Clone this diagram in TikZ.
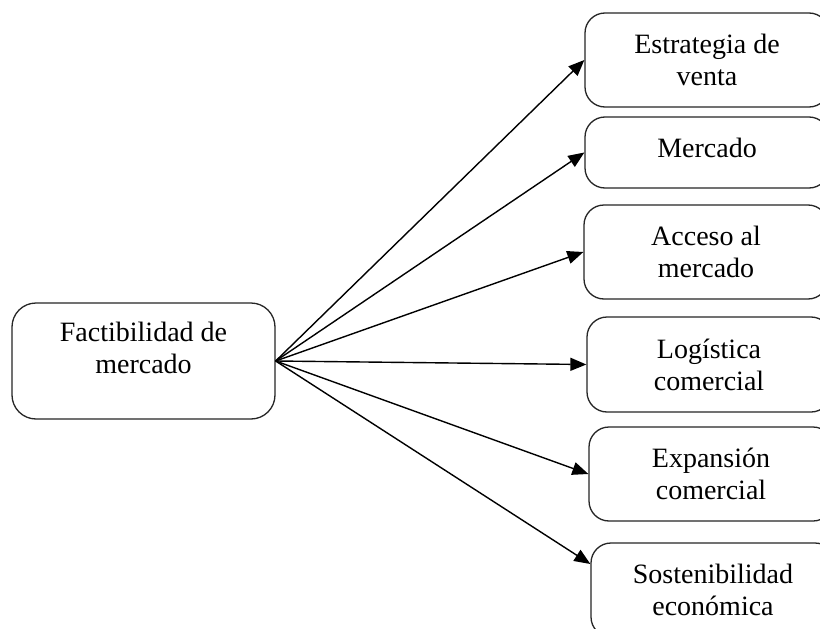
\documentclass[tikz,border=0pt]{standalone}
\usepackage{fontspec}
\setmainfont{Liberation Serif}
\usetikzlibrary{arrows.meta}
\begin{document}
\begin{tikzpicture}[x=1pt,y=-1pt,
  box/.style={draw=black!85, line width=1.3pt, rounded corners=20pt, inner sep=0pt,
    align=center, font=\fontsize{28pt}{32pt}\selectfont},
  link/.style={line width=1.4pt, -{Triangle[length=16pt,width=13pt]}}]
\useasboundingbox (0,0) rectangle (820,629);
\clip (0,0) rectangle (820,629);
\fill[white] (0,0) rectangle (820,629);

% source box
\node[box, rounded corners=24pt, minimum width=263pt, minimum height=116pt] (f) at (143.5,361)
  {Factibilidad de\\mercado\rule[-26pt]{0pt}{26pt}};

% target boxes (run past the right edge)
\node[box, minimum width=244pt, minimum height=94pt] (s1) at (707,60) {Estrategia de\\venta};
\node[box, minimum width=244pt, minimum height=71pt] (s2) at (707,152.5) {Mercado\rule[-10pt]{0pt}{10pt}};
\node[box, minimum width=244pt, minimum height=94pt] (s3) at (706,252) {Acceso al\\mercado};
\node[box, minimum width=244pt, minimum height=95pt] (s4) at (709,364.5) {Logística\\comercial};
\node[box, minimum width=244pt, minimum height=94pt] (s5) at (711,474) {Expansión\\comercial};
\node[box, minimum width=244pt, minimum height=94pt] (s6) at (713,590) {Sostenibilidad\\económica};

% connectors
\draw[link] (f.east) -- (s1.west);
\draw[link] (f.east) -- (s2.west);
\draw[link] (f.east) -- (s3.west);
\draw[link] (f.east) -- (s4.west);
\draw[link] (f.east) -- (s5.west);
\draw[link] (f.east) -- ([yshift=26pt]s6.west);
\end{tikzpicture}
\end{document}
